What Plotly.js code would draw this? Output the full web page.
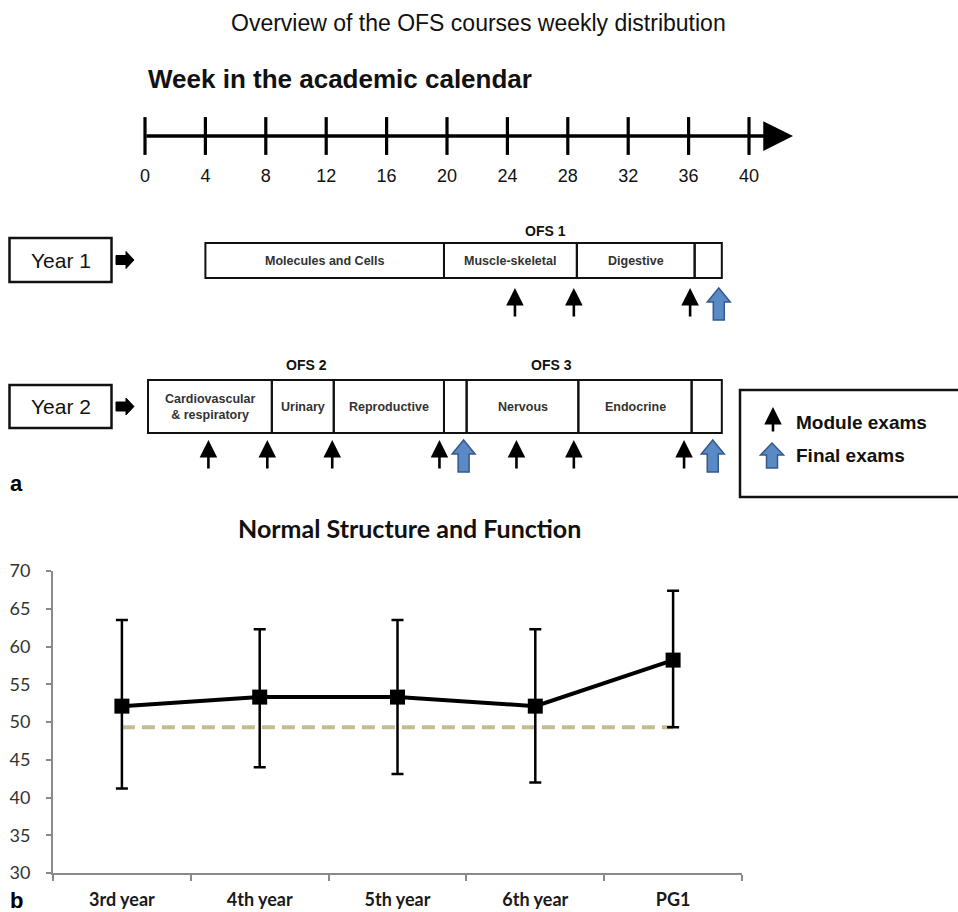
<!DOCTYPE html>
<html><head><meta charset="utf-8">
<script src="https://cdn.plot.ly/plotly-3.0.1.min.js"></script>
<style>html,body{margin:0;padding:0;background:#fff}#chart{width:958px;height:912px}</style>
</head><body><div id="chart"></div>
<script>
// ---------- Panel a data (weeks) ----------
const weekTicks = [0,4,8,12,16,20,24,28,32,36,40];
const year1Modules = ["Molecules and Cells","Muscle-skeletal","Digestive",""];
const year1Bounds = [4, 19.8, 28.6, 36.4, 38.2];
const year1ModuleExams = [24.5, 28.4, 36.1];
const year1FinalExams = [38.0];
const year2Modules = ["Cardiovascular<br>& respiratory","Urinary","Reproductive","","Nervous","Endocrine",""];
const year2Bounds = [0.2, 8.4, 12.5, 19.8, 21.3, 28.7, 36.2, 38.2];
const year2ModuleExams = [4.2, 8.1, 12.4, 19.5, 24.6, 28.4, 35.7];
const year2FinalExams = [21.1, 37.6];
const ofsNames = ["OFS 1","OFS 2","OFS 3"];
const ofsWeeks = [26.5, 10.7, 26.9];
const ofsRows = [1, 2, 2];
const yearNames = ["Year 1","Year 2"];
const legendNames = ["Module exams","Final exams"];

// ---------- Panel b data ----------
const cohorts = ["3rd year","4th year","5th year","6th year","PG1"];
const meanScore = [52.1, 53.3, 53.3, 52.1, 58.2];
const errUp = [11.4, 9.0, 10.2, 10.2, 9.2];
const errDown = [10.9, 9.3, 10.2, 10.1, 8.9];
const referenceScore = 49.3;
const scoreTicks = [30,35,40,45,50,55,60,65,70];

// ---------- layout geometry ----------
const W = 958, H = 912;
const PX0 = 145, PXW = 15.1;            // pixel of week 0, pixels per week
const wk = px => (px - PX0) / PXW;      // pixel column -> week units (for decorations)
const FA = "Liberation Sans, Arial, sans-serif";
const FB = "Lato, Open Sans, sans-serif";

const rows = {
  1: {barTop: 243, barBot: 278, boxTop: 238, boxBot: 282, ofsY: 231, arrowTip: 288},
  2: {barTop: 380, barBot: 433, boxTop: 385, boxBot: 428, ofsY: 365, arrowTip: 440}
};
const axisY = 136, tickLabelY = 177, arrowEndWeek = wk(793);

const shapes = [], annotations = [];

function blockUp(xc, tip, hh, hs, headLen, total, fill, line) {
  const a = [[xc, tip],[xc+hh, tip+headLen],[xc+hs, tip+headLen],[xc+hs, tip+total],
             [xc-hs, tip+total],[xc-hs, tip+headLen],[xc-hh, tip+headLen]];
  return {type:'path', xref:'x2', yref:'y2', layer:'above',
    path: 'M' + a.map(p => p[0] + ',' + p[1]).join(' L') + ' Z',
    fillcolor: fill, line: {color: line, width: 1.5}};
}
function blockRight(x0, yc, len, headLen, hs, hh) {
  const a = [[x0, yc-hs],[x0+len-headLen, yc-hs],[x0+len-headLen, yc-hh],[x0+len, yc],
             [x0+len-headLen, yc+hh],[x0+len-headLen, yc+hs],[x0, yc+hs]];
  return {type:'path', xref:'x2', yref:'y2',
    path: 'M' + a.map(p => wk(p[0]) + ',' + p[1]).join(' L') + ' Z',
    fillcolor: '#000', line: {color: '#000', width: 1}};
}
function moduleArrow(week, tip, len) {
  annotations.push({xref:'x2', yref:'y2', x: week, y: tip, ax: 0, ay: len, text: '',
    showarrow: true, arrowhead: 2, arrowsize: 1.35, arrowwidth: 2.6, arrowcolor: '#000'});
}
const BLUE = '#5a8ac6', BLUE_LINE = '#36598a';
const halfHead = 11.5 / PXW, halfShaft = 5.5 / PXW;

function drawYear(r, names, bounds, modEx, finEx) {
  const g = rows[r];
  for (let i = 0; i < names.length; i++) {
    shapes.push({type:'rect', xref:'x2', yref:'y2', x0: bounds[i], x1: bounds[i+1],
      y0: g.barTop, y1: g.barBot, line: {color:'#111', width: 2}});
    if (names[i]) annotations.push({xref:'x2', yref:'y2', x: (bounds[i]+bounds[i+1])/2,
      y: (g.barTop+g.barBot)/2, text: names[i], showarrow: false,
      font: {family: FA, size: 12.5, color: '#333', weight: 'bold'}});
  }
  modEx.forEach(w => moduleArrow(w, g.arrowTip, 30));
  finEx.forEach(w => shapes.push(blockUp(w, g.arrowTip, halfHead, halfShaft, 14, 32, BLUE, BLUE_LINE)));
  const yc = (g.boxTop + g.boxBot) / 2;
  shapes.push({type:'rect', xref:'x2', yref:'y2', x0: wk(9.5), x1: wk(111.5),
    y0: g.boxTop, y1: g.boxBot, line: {color:'#111', width: 2.5}});
  annotations.push({xref:'x2', yref:'y2', x: wk(60.5), y: yc, text: yearNames[r-1],
    showarrow: false, font: {family: FA, size: 21, color: '#111'}});
  shapes.push(blockRight(116, yc, 18, 8, 4.5, 8.5));
}
drawYear(1, year1Modules, year1Bounds, year1ModuleExams, year1FinalExams);
drawYear(2, year2Modules, year2Bounds, year2ModuleExams, year2FinalExams);

ofsNames.forEach((n, i) => annotations.push({xref:'x2', yref:'y2', x: ofsWeeks[i],
  y: rows[ofsRows[i]].ofsY, text: '<b>' + n + '</b>', showarrow: false,
  font: {family: FA, size: 14, color: '#111'}}));

annotations.push({xref:'x2', yref:'y2', axref:'x2', ayref:'y2', x: arrowEndWeek, y: axisY,
  ax: weekTicks[0], ay: axisY, text: '', showarrow: true, arrowhead: 2, arrowsize: 1.7,
  arrowwidth: 3.5, arrowcolor: '#000'});

shapes.push({type:'rect', xref:'x2', yref:'y2', x0: wk(740), x1: wk(985), y0: 390, y1: 497,
  line: {color:'#111', width: 2.5}});
annotations.push({xref:'x2', yref:'y2', x: wk(773), y: 407, ax: 0, ay: 26, text: '',
  showarrow: true, arrowhead: 2, arrowsize: 1.35, arrowwidth: 2.6, arrowcolor: '#000'});
shapes.push(blockUp(wk(772), 443, halfHead, halfShaft, 12, 25, BLUE, BLUE_LINE));
legendNames.forEach((n, i) => annotations.push({xref:'x2', yref:'y2', x: wk(794), y: i ? 455 : 422,
  xanchor: 'left', text: '<b>' + n + '</b>', showarrow: false, font: {family: FA, size: 19, color: '#111'}}));

annotations.push({xref:'x2', yref:'y2', x: wk(478), y: 23,
  text: 'Overview of the OFS courses weekly distribution',
  showarrow: false, font: {family: FA, size: 23, color: '#111'}});
annotations.push({xref:'x2', yref:'y2', x: wk(146), y: 79, xanchor: 'left',
  text: '<b>Week in the academic calendar</b>', showarrow: false, font: {family: FA, size: 26, color: '#111'}});
annotations.push({xref:'x2', yref:'y2', x: wk(8), y: 483, xanchor: 'left', text: '<b>a</b>',
  showarrow: false, font: {family: FA, size: 22, color: '#000'}});
annotations.push({xref:'x2', yref:'y2', x: wk(8), y: 900, xanchor: 'left', text: '<b>b</b>',
  showarrow: false, font: {family: FA, size: 22, color: '#000'}});
annotations.push({xref:'x2', yref:'y2', x: wk(409), y: 528, text: '<b>Normal Structure and Function</b>',
  showarrow: false, font: {family: FB, size: 25, color: '#111'}});

const traces = [
  {type:'scatter', xaxis:'x2', yaxis:'y2', mode:'markers', x: weekTicks, y: weekTicks.map(() => axisY),
   marker: {symbol:'line-ns', size: 27, line: {color:'#000', width: 3.2}}, hoverinfo:'skip'},
  {type:'scatter', xaxis:'x2', yaxis:'y2', mode:'text', x: weekTicks, y: weekTicks.map(() => tickLabelY),
   text: weekTicks.map(String), textfont: {family: FA, size: 18, color:'#111'}, hoverinfo:'skip'},
  {type:'scatter', mode:'lines', x: [cohorts[0], cohorts[cohorts.length-1]], y: [referenceScore, referenceScore],
   line: {color:'#c4bd90', width: 4, dash: '13px,7px'}, hoverinfo:'skip'},
  {type:'scatter', mode:'lines+markers', x: cohorts, y: meanScore,
   line: {color:'#000', width: 4}, marker: {symbol:'square', size: 15, color:'#000'},
   error_y: {type:'data', symmetric: false, array: errUp, arrayminus: errDown,
             color:'#000', thickness: 2.5, width: 6}}
];

const layout = {
  width: W, height: H, margin: {l:0, r:0, t:0, b:0}, showlegend: false,
  paper_bgcolor: '#fff', plot_bgcolor: 'rgba(0,0,0,0)',
  xaxis2: {domain: [0,1], range: [wk(0), wk(W)], visible: false, anchor: 'y2', fixedrange: true},
  yaxis2: {domain: [0,1], range: [H, 0], visible: false, anchor: 'x2', fixedrange: true},
  xaxis: {domain: [53/W, 742/W], type: 'category', categoryorder: 'array', categoryarray: cohorts,
    range: [-0.5, cohorts.length - 0.5],
    tickson: 'boundaries', ticks: 'outside', ticklen: 6, tickwidth: 2, tickcolor: '#8a8a8a',
    showline: true, linecolor: '#8a8a8a', linewidth: 2, showgrid: false, zeroline: false,
    tickfont: {family: FB, size: 18, color: '#1a1a1a', weight: 'bold'}, ticklabelstandoff: 9, anchor: 'y'},
  yaxis: {domain: [(H-873)/H, (H-571)/H], range: [30, 70], tickvals: scoreTicks,
    ticks: 'outside', ticklen: 5, tickwidth: 2, tickcolor: '#8a8a8a', showline: true,
    linecolor: '#8a8a8a', linewidth: 2, showgrid: false, zeroline: false,
    tickfont: {family: FB, size: 18, color: '#333'}, ticklabelstandoff: 12, anchor: 'x'},
  shapes: shapes, annotations: annotations
};
Plotly.newPlot('chart', traces, layout, {staticPlot: true, displayModeBar: false});
</script></body></html>
